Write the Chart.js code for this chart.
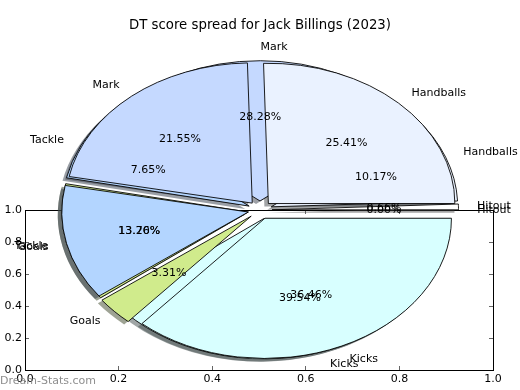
<!DOCTYPE html>
<html><head><meta charset="utf-8">
<script src="https://cdn.jsdelivr.net/npm/chart.js@4"></script>
<style>
html,body{margin:0;padding:0;background:#fff;}
#wrap{position:relative;width:520px;height:390px;overflow:hidden;background:#fff;}
#wrap canvas{position:absolute;left:0;top:0;}
#wrap canvas.shadow{left:-4px;top:3px;}
</style></head><body>
<div id="wrap">
<canvas id="axes" width="520" height="390"></canvas>
<canvas id="shB" class="shadow" width="520" height="390"></canvas>
<canvas id="shA" class="shadow" width="520" height="390"></canvas>
<canvas id="pieB" width="520" height="390"></canvas>
<canvas id="pieA" width="520" height="390"></canvas>
</div>
<script>
// ---- data ----
const chartTitle = 'DT score spread for Jack Billings (2023)';
const categories = ['Handballs', 'Mark', 'Tackle', 'Goals', 'Kicks', 'Hitout'];
const sliceColors = ['#eaf2ff', '#c5d9ff', '#b3d5ff', '#d0eb8c', '#d8ffff', '#ffffff'];
// first pie (drawn on top)
const categoriesA = ['Handballs', 'Mark', 'Tackle', 'Goals', 'Kicks', 'Hitout'];
const valuesA = [25.41, 21.55, 13.26, 3.31, 36.46, 0.00];
// second pie (seen through the gaps)
const categoriesB = ['Hitout', 'Handballs', 'Mark', 'Tackle', 'Goals', 'Kicks'];
const valuesB = [0.66, 10.17, 28.28, 7.65, 13.70, 39.54];
const axisTicks = [0, 0.2, 0.4, 0.6, 0.8, 1.0];
const watermark = 'Dream-Stats.com';

// ---- geometry / style ----
const FONT = '"DejaVu Sans", sans-serif';
Chart.defaults.font.family = FONT;
const RX = 186.5;          // pie radius (horizontal)
const K = 0.752;           // vertical squash (ellipse)
const EXPLODE = 12;        // px the wedges are pulled out

// explode every wedge by a fixed distance along its mid angle
const ArcEl = Chart.ArcElement || Chart.registry.getElement('arc');
const baseArcDraw = ArcEl.prototype.draw;
ArcEl.prototype.draw = function (ctx) {
  const mid = (this.startAngle + this.endAngle) / 2;
  ctx.save();
  ctx.translate(Math.cos(mid) * EXPLODE, Math.sin(mid) * EXPLODE);
  baseArcDraw.call(this, ctx);
  ctx.restore();
};

const rev = a => a.slice().reverse();
const colorOf = c => sliceColors[categories.indexOf(c)];
function shadowColor(hex) {
  const n = parseInt(hex.slice(1), 16);
  const r = (n >> 16) & 255, g = (n >> 8) & 255, b = n & 255;
  return `rgba(${Math.round(r*0.3)},${Math.round(g*0.3)},${Math.round(b*0.3)},0.5)`;
}

const ellipsePlugin = {
  id: 'ellipse',
  beforeDatasetsDraw(chart) {
    const a = chart.getDatasetMeta(0).data[0];
    const ctx = chart.ctx;
    ctx.save();
    ctx.translate(a.x, a.y);
    ctx.scale(1, K);
    ctx.translate(-a.x, -a.y);
  },
  afterDatasetsDraw(chart) { chart.ctx.restore(); }
};

function pieTexts(ctx, chart) {
  const meta = chart.getDatasetMeta(0);
  const labels = chart.data.labels;
  const vals = chart.data.datasets[0].data;
  ctx.save();
  ctx.font = '11px ' + FONT;
  ctx.fillStyle = '#000';
  ctx.textBaseline = 'middle';
  meta.data.forEach((arc, i) => {
    const mid = (arc.startAngle + arc.endAngle) / 2;
    const c = Math.cos(mid), s = Math.sin(mid);
    const R = arc.outerRadius;
    const dl = EXPLODE + 1.1 * R, dp = EXPLODE + 0.6 * R;
    ctx.textAlign = c > 1e-9 ? 'left' : 'right';
    ctx.fillText(labels[i], arc.x + dl * c, arc.y + dl * s * K);
    ctx.textAlign = 'center';
    ctx.fillText(vals[i].toFixed(2) + '%', arc.x + dp * c, arc.y + dp * s * K);
  });
  ctx.restore();
}

function pieConfig(cats, values, shadow, extraPlugins) {
  const cols = cats.map(colorOf);
  return {
    type: 'pie',
    data: {
      labels: rev(cats),
      datasets: [{
        data: rev(values),
        backgroundColor: rev(shadow ? cols.map(shadowColor) : cols),
        borderColor: '#000',
        borderWidth: shadow ? 0 : 1,
        offset: 0,
        hoverOffset: 0,
        clip: false
      }]
    },
    options: {
      responsive: false, animation: false, devicePixelRatio: 1, events: [],
      rotation: 90,
      radius: RX,
      layout: { padding: { left: 0, right: 0, top: 30, bottom: 0 } },
      plugins: { legend: { display: false }, tooltip: { enabled: false }, title: { display: false } }
    },
    plugins: [ellipsePlugin].concat(extraPlugins || [])
  };
}

// ---- axes (drawn under the pies) ----
const gridCfg = { display: true, drawOnChartArea: false, drawTicks: true, tickLength: -4, color: '#666', lineWidth: 1 };
const borderCfg = { display: true, color: '#000', width: 1 };
const setTicks = s => { s.ticks = axisTicks.map(v => ({ value: v })); };
const textPlugin = {
  id: 'texts',
  afterDraw(chart) {
    const ctx = chart.ctx;
    ctx.save();
    ctx.fillStyle = '#000';
    ctx.font = '13.3px ' + FONT;
    ctx.textAlign = 'center';
    ctx.textBaseline = 'middle';
    ctx.fillText(chartTitle, 260, 26);
    ctx.fillStyle = 'rgba(130,130,130,0.9)';
    ctx.font = '11px ' + FONT;
    ctx.textAlign = 'left';
    ctx.fillText(watermark, 0, 381);
    ctx.restore();
  }
};
new Chart(document.getElementById('axes'), {
  type: 'scatter',
  data: { datasets: [{ data: [] }] },
  options: {
    responsive: false, animation: false, devicePixelRatio: 1, events: [],
    layout: { padding: { left: 0, right: 27, top: 210, bottom: 0 } },
    plugins: { legend: { display: false }, tooltip: { enabled: false } },
    scales: {
      x: { type: 'linear', position: 'bottom', min: 0, max: 1, afterBuildTicks: setTicks,
           ticks: { callback: v => v.toFixed(1), color: '#000', padding: 7, maxRotation: 0, autoSkip: false, font: { size: 11 } },
           grid: gridCfg, border: borderCfg, afterFit: s => { s.height = 20; } },
      y: { type: 'linear', position: 'left', min: 0, max: 1, afterBuildTicks: setTicks,
           ticks: { callback: v => v.toFixed(1), color: '#000', padding: 7, autoSkip: false, font: { size: 11 } },
           grid: gridCfg, border: borderCfg, afterFit: s => { s.width = 25; } },
      x2: { type: 'linear', position: 'top', min: 0, max: 1, afterBuildTicks: setTicks,
            ticks: { display: false }, grid: gridCfg, border: borderCfg, afterFit: s => { s.height = 0; } },
      y2: { type: 'linear', position: 'right', min: 0, max: 1, afterBuildTicks: setTicks,
            ticks: { display: false }, grid: gridCfg, border: borderCfg, afterFit: s => { s.width = 0; } }
    }
  },
  plugins: [textPlugin]
});

// ---- shadows ----
new Chart(document.getElementById('shB'), pieConfig(categoriesB, valuesB, true));
new Chart(document.getElementById('shA'), pieConfig(categoriesA, valuesA, true));

// ---- pies ----
const pieB = new Chart(document.getElementById('pieB'), pieConfig(categoriesB, valuesB, false));
const allTexts = {
  id: 'allTexts',
  afterDatasetsDraw(chart) {
    pieTexts(chart.ctx, chart);
    pieTexts(chart.ctx, pieB);
  }
};
new Chart(document.getElementById('pieA'), pieConfig(categoriesA, valuesA, false, [allTexts]));
</script>
</body></html>
